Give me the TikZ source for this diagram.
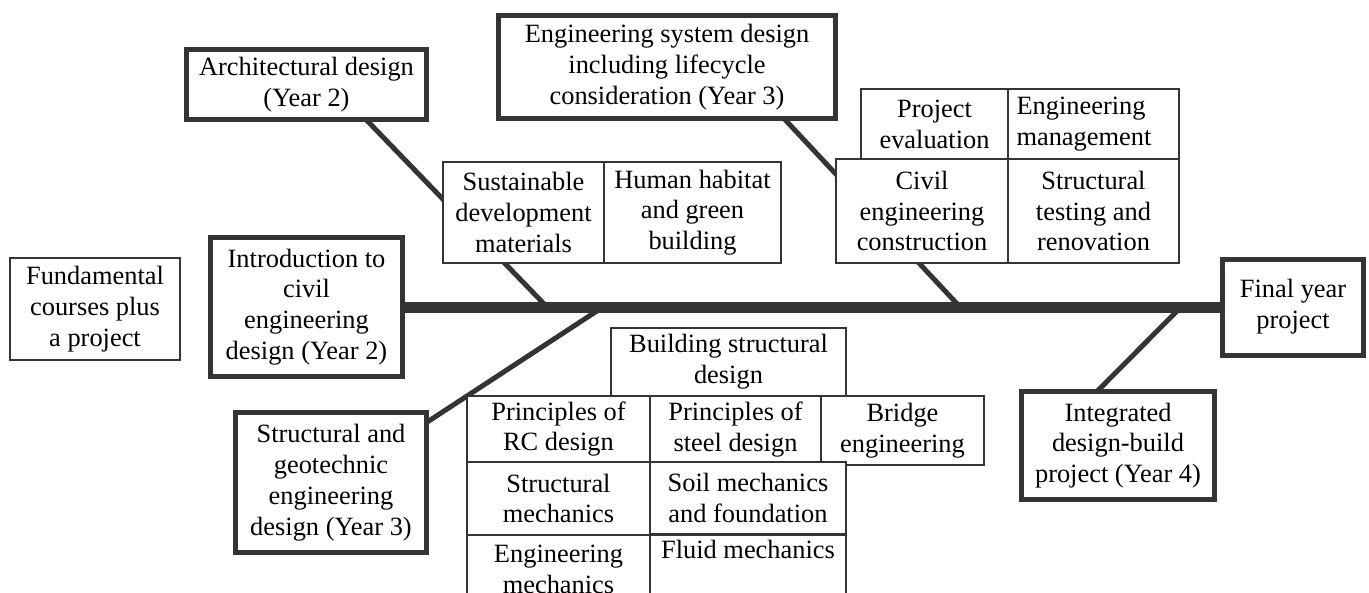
\documentclass[tikz,border=0pt]{standalone}
\usepackage{fontspec}
\setmainfont{Liberation Serif}
\usetikzlibrary{positioning, calc, backgrounds}
\definecolor{ink}{RGB}{52,52,56}

\begin{document}
\begin{tikzpicture}[x=0.5pt, y=-0.5pt,
    course/.style={draw=ink, line width=0.75pt, fill=white, align=center, inner sep=2pt, outer sep=0pt},
    stage/.style={draw=ink, line width=2.5pt, fill=white, align=center, inner sep=2pt, outer sep=0pt},
    bone/.style={draw=ink, line width=2.5pt},
    spine/.style={draw=ink, line width=5.5pt},
    font=\fontsize{13.2}{15.4}\selectfont]
    \useasboundingbox (0,0) rectangle (1369,593);
    \clip (0,0) rectangle (1369,593);

    \node[course, minimum width=85pt, minimum height=51pt] (fund) at (95,309) {Fundamental\\courses plus\\a project};
    \node[stage, minimum width=96pt, minimum height=69.5pt] (intro) at (306.5,307) {Introduction to\\civil\\engineering\\design (Year 2)};
    \node[stage, minimum width=70.5pt, minimum height=48pt] (final) at (1293,307) {Final year\\project};
    \node[stage, minimum width=120pt, minimum height=35pt] (arch) at (306.5,84.5) {Architectural design\\(Year 2)};
    \node[stage, minimum width=168.5pt, minimum height=51.5pt] (esys) at (667,67) {Engineering system design\\including lifecycle\\consideration (Year 3)};
    \node[stage, minimum width=95.5pt, minimum height=70pt] (geo) at (331,482.5) {Structural and\\geotechnic\\engineering\\design (Year 3)};
    \node[stage, minimum width=96.5pt, minimum height=54pt] (integ) at (1118,445.5) {Integrated\\design-build\\project (Year 4)};

    \node[course, minimum width=80.5pt, minimum height=50.5pt] (sust) at (523.5,212.5) {Sustainable\\development\\materials};
    \node[course, minimum width=88.5pt, minimum height=50.5pt, right=0pt of sust] (habitat) {Human habitat\\and green\\building};

    \node[course, minimum width=86pt, minimum height=52pt] (civil) at (922,211) {Civil\\engineering\\construction};
    \node[course, minimum width=85.5pt, minimum height=52pt, right=0pt of civil] (renov) {Structural\\testing and\\renovation};
    \node[course, minimum width=73.5pt, minimum height=35pt, above left=0pt and 0pt of civil.north east] (eval) {Project\\evaluation};
    \node[course, minimum width=85.5pt, minimum height=35pt, text width=77pt, align=left, right=0pt of eval] (mgmt) {Engineering\\management};

    \node[course, minimum width=91.5pt, minimum height=33pt] (rc) at (558.5,429) {Principles of\\RC design};
    \node[course, minimum width=85.5pt, minimum height=33.5pt, anchor=north west] (steel) at (rc.north east) {Principles of\\steel design};
    \node[course, minimum width=81.5pt, minimum height=34.5pt, anchor=north west] (bridge) at (steel.north east) {Bridge\\engineering};
    \node[course, minimum width=91.5pt, minimum height=36.5pt, below=0pt of rc] (smech) {Structural\\mechanics};
    \node[course, minimum width=98pt, minimum height=36pt, anchor=north west] (soil) at (smech.north east) {Soil mechanics\\and foundation};
    \node[course, minimum width=91.5pt, minimum height=34pt, below=0pt of smech] (emech) {Engineering\\mechanics};
    \node[course, minimum width=98pt, minimum height=34pt, anchor=north west] (fluid) at (emech.north east) {Fluid mechanics\\\strut};
    \node[course, minimum width=117.5pt, minimum height=34pt, anchor=south east] (bsd) at (soil.east |- rc.north) {Building structural\\design};

    \coordinate (ja) at (547,307);
    \coordinate (jg) at (603,307);
    \coordinate (jc) at (960,307);
    \coordinate (ji) at (1181,307);

    \begin{scope}[on background layer]
    \draw[spine] (intro) -- (final);
    \draw[bone] ($(arch.south)+(59.5,0)$) -- (ja);
    \draw[bone] (jg) -- ($(geo.north east)+(0,10)$);
    \draw[bone] ($(esys.south)+(117,0)$) -- (jc);
    \draw[bone] ($(integ.north)+(-21,0)$) -- (ji);
    \end{scope}
\end{tikzpicture}
\end{document}
